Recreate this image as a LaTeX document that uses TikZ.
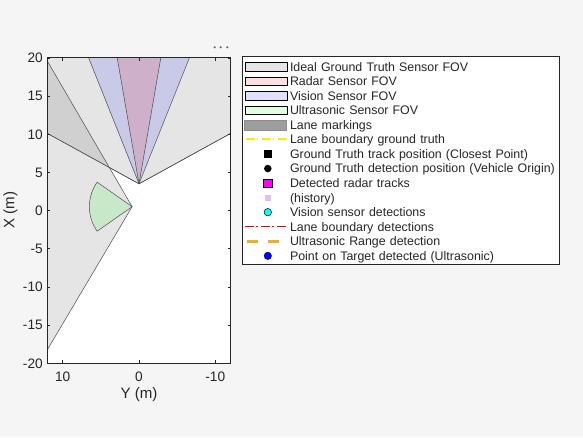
\documentclass[tikz,border=0pt]{standalone}
\usepackage{fontspec}
\setmainfont{Liberation Sans}
\usetikzlibrary{positioning}
\definecolor{figbg}{RGB}{245,245,245}
\definecolor{axcol}{RGB}{38,38,38}
\definecolor{fovgray}{RGB}{128,128,128}
\definecolor{fovred}{RGB}{255,0,0}
\definecolor{fovblue}{RGB}{0,0,255}
\definecolor{fovgreen}{RGB}{0,255,0}
\definecolor{usorange}{RGB}{237,177,32}
\definecolor{laneyellow}{RGB}{245,240,0}
\definecolor{lanered}{RGB}{255,0,0}
\definecolor{trkmagenta}{RGB}{255,0,255}
\definecolor{viscyan}{RGB}{0,255,255}
\definecolor{usblue}{RGB}{0,0,255}
\definecolor{histpink}{RGB}{232,188,238}
\definecolor{lanegray}{RGB}{158,158,158}

\begin{document}
\begin{tikzpicture}[x=1pt,y=1pt,node distance=14.55pt,
    fov/.style={draw=black!70,line width=0.5pt,line join=round},
    gt fov/.style={fov,fill=fovgray,fill opacity=0.2},
    radar fov/.style={fov,fill=fovred,fill opacity=0.12},
    vision fov/.style={fov,fill=fovblue,fill opacity=0.12},
    us fov/.style={fov,fill=fovgreen,fill opacity=0.12},
    ticklab/.style={inner sep=0pt,text=axcol,font=\fontsize{13.7}{15}\selectfont},
    axlab/.style={inner sep=0pt,text=axcol,font=\fontsize{15.1}{17}\selectfont},
    legtext/.style={text width=265pt,align=left,inner sep=0pt,minimum height=14.55pt,
        text height=8.9pt,text depth=0pt,text=axcol,font=\fontsize{12.4}{14}\selectfont},
    swatch/.style={minimum width=42pt,minimum height=8.5pt,inner sep=0pt,line width=0.6pt},
    dashdot line/.style={line width=#1,dash pattern=on 9pt off 2pt on 1.5pt off 3.5pt},
    dotmk/.style={circle,inner sep=0pt,minimum size=#1},
    sqmk/.style={rectangle,inner sep=0pt,minimum size=#1}]

    % figure background
    \fill[figbg] (0,0) rectangle (583,437);
    \foreach \dx in {214.7,220.7,227.3}
        \fill[black!60] (\dx,389.7) circle (1.2pt);

    % axes in data units (Y to the left, X up)
    \begin{scope}[shift={(139,226.5)},x={(-7.63pt,0pt)},y={(0pt,7.63pt)}]
        \fill[white] (12,-20) rectangle (-12,20);
        \begin{scope}
            \clip (12,-20) rectangle (-12,20);
            \fill[gt fov] (0,3.5) -- (14,11.2) -- (14,25) -- (-14,25) -- (-14,11.2) -- cycle;
            \draw[fov] (14,11.2) -- (0,3.5) -- (-14,11.2);
            \filldraw[gt fov] (0.9,0.5) -- (14,23) -- (14,-21.6) -- cycle;
            \filldraw[vision fov] (0,3.5) -- (7.4,22) -- (-7.4,22) -- cycle;
            \filldraw[radar fov] (0,3.5) -- (3.2,22) -- (-3.2,22) -- cycle;
            \filldraw[us fov] (0.9,0.5) -- plot[domain=35:-35,samples=40]
                ({0.9+5.6*cos(\x)},{0.5+5.6*sin(\x)}) -- cycle;
        \end{scope}

        % ticks and labels
        \foreach \v in {-20,-15,...,20} {
            \draw[axcol,line width=0.5pt] (12,\v) -- ([xshift=3pt]12,\v);
            \draw[axcol,line width=0.5pt] (-12,\v) -- ([xshift=-3pt]-12,\v);
            \node[ticklab,anchor=base east] (xt\v) at ([xshift=-4.5pt,yshift=-4.9pt]12,\v) {\v};
        }
        \foreach \v in {-10,0,10} {
            \draw[axcol,line width=0.5pt] (\v,-20) -- ([yshift=3pt]\v,-20);
            \draw[axcol,line width=0.5pt] (\v,20) -- ([yshift=-3pt]\v,20);
            \node[ticklab,anchor=base] (yt\v) at ([yshift=-18.5pt]\v,-20) {\v};
        }
        \draw[axcol,line width=0.8pt] (12,-20) rectangle (-12,20);
    \end{scope}

    \node[axlab] (ylab) at (139,42) {Y (m)};
    \node[axlab,rotate=90] (xlab) at (10.5,227) {X (m)};

    % legend
    \draw[axcol,fill=white,line width=0.6pt] (242,173) rectangle (559,381);

    \node[legtext]  (t1) at (422.5,370.3) {Ideal Ground Truth Sensor FOV};
    \node[legtext]  (t2) [below of = t1] {Radar Sensor FOV};
    \node[legtext]  (t3) [below of = t2] {Vision Sensor FOV};
    \node[legtext]  (t4) [below of = t3] {Ultrasonic Sensor FOV};
    \node[legtext]  (t5) [below of = t4] {Lane markings};
    \node[legtext]  (t6) [below of = t5] {Lane boundary ground truth};
    \node[legtext]  (t7) [below of = t6] {Ground Truth track position (Closest Point)};
    \node[legtext]  (t8) [below of = t7] {Ground Truth detection position (Vehicle Origin)};
    \node[legtext]  (t9) [below of = t8] {Detected radar tracks};
    \node[legtext] (t10) [below of = t9] {(history)};
    \node[legtext] (t11) [below of = t10] {Vision sensor detections};
    \node[legtext] (t12) [below of = t11] {Lane boundary detections};
    \node[legtext] (t13) [below of = t12] {Ultrasonic Range detection};
    \node[legtext] (t14) [below of = t13] {Point on Target detected (Ultrasonic)};

    \node[swatch,gt fov,draw=black] (s1) [left=2pt of t1] {};
    \node[swatch,radar fov,draw=black] (s2) [left=2pt of t2] {};
    \node[swatch,vision fov,draw=black] (s3) [left=2pt of t3] {};
    \node[swatch,us fov,draw=black] (s4) [left=2pt of t4] {};
    \node[swatch,fill=lanegray,draw=black!45,minimum height=10pt] (s5) [left=3pt of t5] {};

    \draw[laneyellow,dashdot line=1.9pt] ([xshift=-44pt]t6.west) -- ([xshift=-2pt]t6.west);
    \node[sqmk=8.3pt,fill=black] (m7) at ([xshift=-22pt]t7.west) {};
    \node[dotmk=7.5pt,fill=black] (m8) at ([xshift=-22pt]t8.west) {};
    \node[sqmk=8.5pt,fill=trkmagenta,draw=black,line width=0.5pt] (m9) at ([xshift=-22pt]t9.west) {};
    \node[sqmk=6pt,fill=histpink] (m10) at ([xshift=-22pt]t10.west) {};
    \node[dotmk=7.5pt,fill=viscyan,draw=black,line width=0.5pt] (m11) at ([xshift=-22pt]t11.west) {};
    \draw[lanered,dashdot line=1pt] ([xshift=-44.5pt]t12.west) -- ([xshift=-2pt]t12.west);
    \draw[usorange,line width=2.6pt,dash pattern=on 11pt off 10.5pt]
        ([xshift=-43pt]t13.west) -- ([xshift=-2pt]t13.west);
    \node[dotmk=7.5pt,fill=usblue,draw=usblue!60!black,line width=0.4pt] (m14) at ([xshift=-22pt]t14.west) {};
\end{tikzpicture}
\end{document}
